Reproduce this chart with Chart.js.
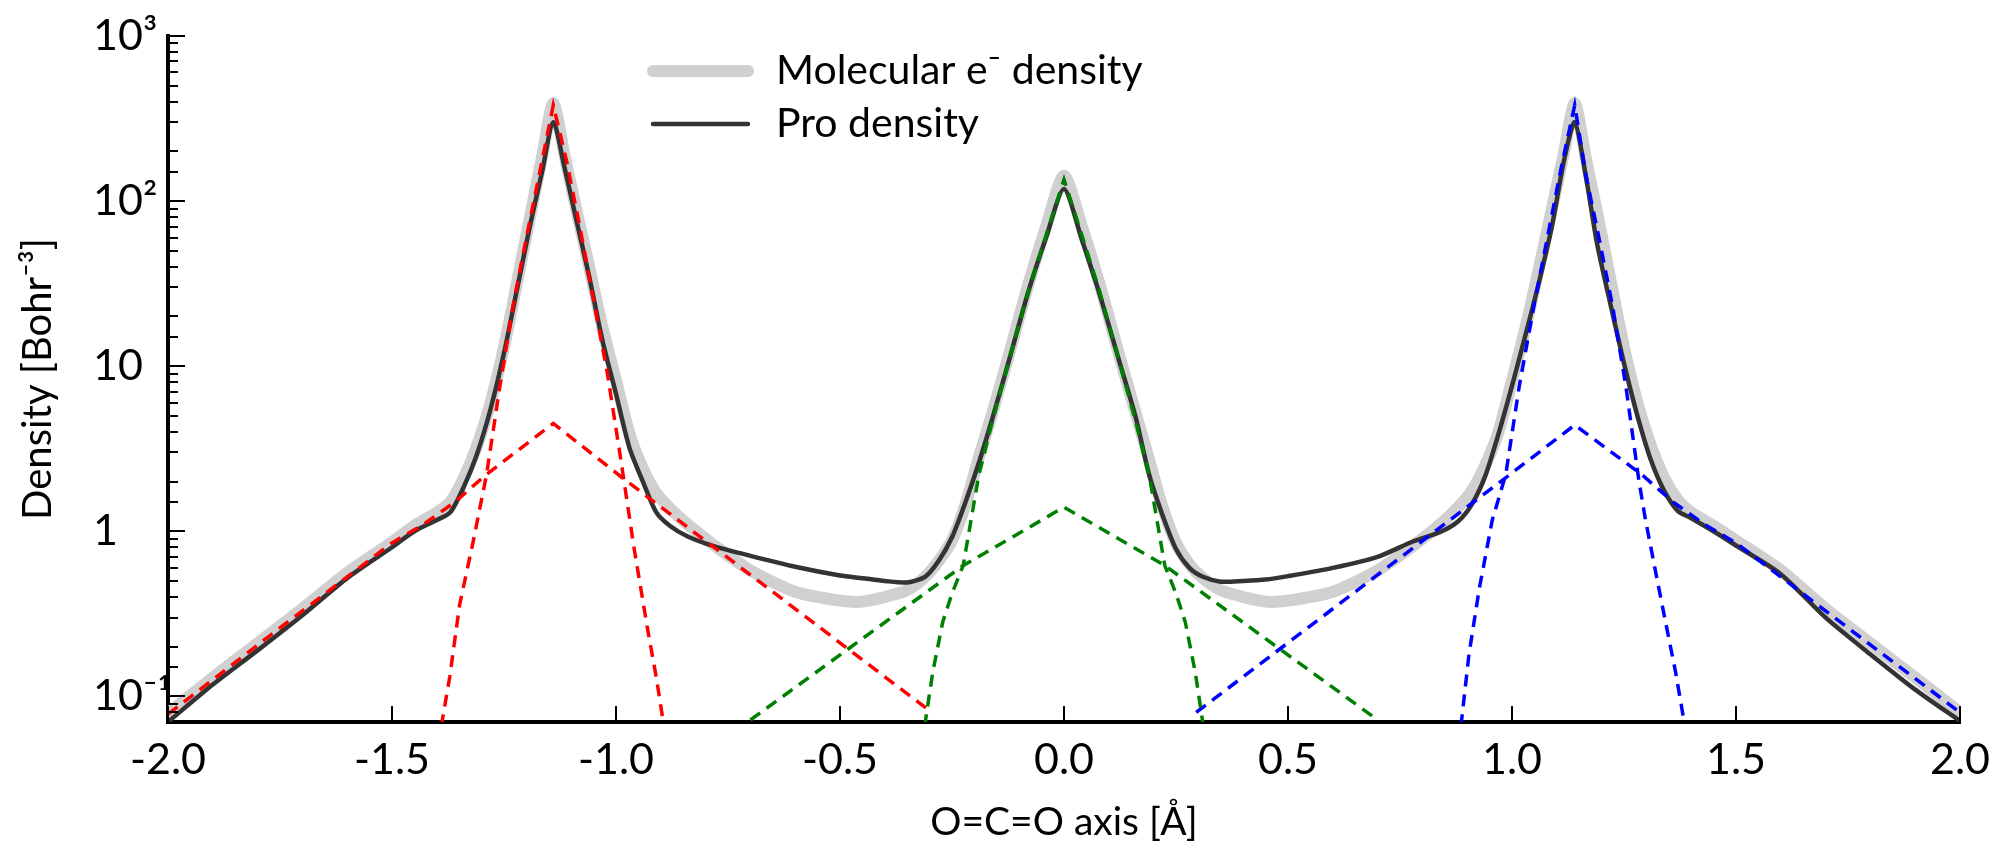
<!DOCTYPE html>
<html>
<head>
<meta charset="utf-8">
<script src="https://cdn.jsdelivr.net/npm/chart.js@4.4.1/dist/chart.umd.min.js"></script>
<style>
  body { margin: 0; background: #fff; }
  #wrap { width: 2009px; height: 848px; }
</style>
</head>
<body>
<div id="wrap"><canvas id="densityChart" width="2009" height="848"></canvas></div>
<script>
// positions along the O=C=O axis (Angstrom) for the two solid curves
const axisX = [-2.0, -1.9, -1.8, -1.7, -1.6, -1.5, -1.45, -1.4, -1.37, -1.34, -1.31, -1.28, -1.25, -1.22, -1.19, -1.165,
  -1.14, -1.115, -1.09, -1.06, -1.03, -1.0, -0.97, -0.94, -0.91, -0.88, -0.84, -0.78, -0.7, -0.6, -0.5, -0.45, -0.4,
  -0.35, -0.31, -0.28, -0.25, -0.22, -0.19, -0.16, -0.12, -0.08, -0.04, 0.0, 0.04, 0.08, 0.12, 0.16, 0.19, 0.22, 0.25,
  0.28, 0.31, 0.35, 0.4, 0.45, 0.5, 0.6, 0.7, 0.78, 0.84, 0.88, 0.91, 0.94, 0.97, 1.0, 1.03, 1.06, 1.09, 1.115, 1.14,
  1.165, 1.19, 1.22, 1.25, 1.28, 1.31, 1.34, 1.37, 1.4, 1.45, 1.5, 1.6, 1.7, 1.8, 1.9, 2.0];

const molecular = [0.079, 0.13, 0.21, 0.34, 0.56, 0.86, 1.08, 1.3, 1.5, 2.1, 3.3, 6.0, 13, 33, 85, 185,
  390, 190, 92, 40, 17, 8.2, 3.9, 2.4, 1.7, 1.38, 1.1, 0.82, 0.58, 0.43, 0.38, 0.375, 0.4,
  0.44, 0.53, 0.66, 0.88, 1.45, 2.8, 5.2, 12.5, 31, 70, 142, 70, 31, 12.5, 5.2, 2.7, 1.4, 0.85,
  0.63, 0.52, 0.44, 0.4, 0.375, 0.38, 0.43, 0.58, 0.82, 1.1, 1.4, 1.75, 2.5, 4.0, 8.2, 17, 39, 92, 190, 390,
  180, 85, 33, 13, 6.0, 3.3, 2.1, 1.55, 1.3, 1.08, 0.88, 0.58, 0.34, 0.21, 0.13, 0.08];

const proDensity = [0.070, 0.118, 0.19, 0.31, 0.52, 0.80, 1.0, 1.17, 1.3, 1.85, 2.95, 5.5, 12, 30, 75, 150,
  300, 160, 80, 35, 14.2, 6.8, 3.2, 2.0, 1.3, 1.08, 0.93, 0.81, 0.71, 0.61, 0.54, 0.52, 0.50,
  0.49, 0.53, 0.66, 0.92, 1.5, 2.6, 4.8, 11.5, 28, 60, 118, 58, 27, 11.5, 4.9, 2.2, 1.25, 0.78,
  0.6, 0.53, 0.495, 0.50, 0.51, 0.535, 0.60, 0.70, 0.87, 0.99, 1.15, 1.45, 2.15, 3.9, 7.6, 15.4, 32, 72, 170, 300,
  140, 55, 23.5, 10.4, 5.0, 2.7, 1.75, 1.33, 1.2, 1.0, 0.82, 0.55, 0.30, 0.18, 0.11, 0.071];

// atomic contributions (dashed)
const redCoreX = [-1.39, -1.371, -1.349, -1.319, -1.289, -1.259, -1.23, -1.2, -1.17, -1.14, -1.11, -1.08, -1.05, -1.02, -0.99, -0.96, -0.93, -0.91, -0.893];
const redCoreY = [0.066, 0.132, 0.36, 0.86, 2.2, 7.6, 23, 60, 150, 380, 173, 68, 25, 9.3, 2.8, 0.8, 0.26, 0.13, 0.066];
const redValX = [-2.0, -1.75, -1.5, -1.43, -1.36, -1.29, -1.14, -0.985, -0.295];
const redValY = [0.078, 0.26, 0.85, 1.1, 1.5, 2.2, 4.5, 2.1, 0.08];

const greenCoreX = [-0.311, -0.293, -0.271, -0.25, -0.225, -0.19, -0.16, -0.12, -0.08, -0.04, 0, 0.04, 0.08, 0.12, 0.16, 0.19, 0.225, 0.25, 0.271, 0.293, 0.311];
const greenCoreY = [0.066, 0.14, 0.28, 0.42, 0.62, 2.2, 4.6, 11.5, 28, 62, 135, 62, 28, 11.5, 4.6, 2.2, 0.62, 0.42, 0.28, 0.14, 0.066];
const greenValX = [-0.70, -0.225, 0, 0.225, 0.70];
const greenValY = [0.072, 0.62, 1.4, 0.62, 0.072];

const blueCoreX = [0.886, 0.904, 0.927, 0.956, 0.986, 1.016, 1.05, 1.08, 1.11, 1.14, 1.165, 1.194, 1.224, 1.254, 1.283, 1.298, 1.321, 1.343, 1.365, 1.386];
const blueCoreY = [0.066, 0.18, 0.45, 1.17, 2.2, 7.5, 24, 62, 160, 380, 143, 60, 23.5, 7.6, 2.05, 1.17, 0.56, 0.28, 0.141, 0.066];
const blueValX = [0.295, 0.985, 1.14, 1.29, 1.36, 1.43, 1.5, 1.75, 2.0];
const blueValY = [0.08, 2.1, 4.4, 2.2, 1.5, 1.1, 0.85, 0.26, 0.08];

const xTicks = [-2.0, -1.5, -1.0, -0.5, 0.0, 0.5, 1.0, 1.5, 2.0];
const yTickLabels = { '3': '10³', '2': '10²', '1': '10', '0': '1', '-1': '10⁻¹' };

const FONT = 'Lato';

function pts(xs, ys) {
    return xs.map((x, i) => ({ x: x, y: ys[i] }));
}

function dashed(xs, ys, color) {
    return {
        data: pts(xs, ys),
        borderColor: color,
        borderWidth: 3.5,
        borderDash: [12, 8],
        tension: 0,
        order: 0,
        legend: false
    };
}

// tick marks pointing into the plot, like the original
const innerTicks = {
    id: 'innerTicks',
    afterDraw(chart) {
        const { ctx, chartArea } = chart;
        const x = chart.scales.x, y = chart.scales.y;
        ctx.save();
        ctx.strokeStyle = '#000';
        ctx.lineWidth = 2;
        ctx.beginPath();
        y.ticks.forEach(t => {
            const p = Math.round(y.getPixelForValue(t.value));
            if (p > chartArea.bottom - 3) return;
            const lg = Math.log10(t.value);
            const len = Math.abs(lg - Math.round(lg)) < 1e-6 ? 17 : 10;
            ctx.moveTo(chartArea.left, p);
            ctx.lineTo(chartArea.left + len, p);
        });
        xTicks.forEach(v => {
            const p = Math.round(x.getPixelForValue(v));
            ctx.moveTo(p, chartArea.bottom);
            ctx.lineTo(p, chartArea.bottom - 16);
        });
        ctx.stroke();
        ctx.restore();
    }
};

// legend drawn inside the plot with line samples
const lineLegend = {
    id: 'lineLegend',
    afterDraw(chart) {
        const ctx = chart.ctx;
        const rows = chart.data.datasets.filter(d => d.legend);
        ctx.save();
        ctx.font = '41px ' + FONT;
        ctx.textBaseline = 'middle';
        ctx.fillStyle = '#000';
        rows.forEach((d, i) => {
            const yy = 71 + i * 53;
            ctx.strokeStyle = d.borderColor;
            ctx.lineWidth = d.borderWidth;
            ctx.lineCap = 'round';
            ctx.beginPath();
            ctx.moveTo(653, yy);
            ctx.lineTo(748, yy);
            ctx.stroke();
            ctx.fillText(d.label, 776, yy);
        });
        ctx.restore();
    }
};

const ctx = document.getElementById('densityChart').getContext('2d');
const myChart = new Chart(ctx, {
    type: 'line',
    data: {
        datasets: [
            dashed(redCoreX, redCoreY, '#ff0000'),
            dashed(redValX, redValY, '#ff0000'),
            dashed(greenCoreX, greenCoreY, '#008000'),
            dashed(greenValX, greenValY, '#008000'),
            dashed(blueCoreX, blueCoreY, '#0000ff'),
            dashed(blueValX, blueValY, '#0000ff'),
            {
                label: 'Molecular e⁻ density',
                data: pts(axisX, molecular),
                borderColor: '#d0d0d0',
                borderWidth: 12,
                borderCapStyle: 'round',
                borderJoinStyle: 'round',
                tension: 0.25,
                order: 2,
                legend: true
            },
            {
                label: 'Pro density',
                data: pts(axisX, proDensity),
                borderColor: '#333333',
                borderWidth: 4.5,
                borderJoinStyle: 'round',
                tension: 0.25,
                order: 1,
                legend: true
            }
        ]
    },
    options: {
        responsive: false,
        animation: false,
        devicePixelRatio: 1,
        layout: { padding: { top: 28, right: 49, left: 93, bottom: 0 } },
        elements: {
            point: { radius: 0 },
            line: { fill: false }
        },
        datasets: { line: { clip: 0 } },
        plugins: {
            legend: { display: false },
            tooltip: { enabled: false }
        },
        scales: {
            x: {
                type: 'linear',
                min: -2,
                max: 2,
                z: 1,
                afterFit: s => { s.height = 126; },
                afterBuildTicks: s => { s.ticks = xTicks.map(v => ({ value: v })); },
                grid: { display: false, drawTicks: false },
                border: { display: true, color: '#000', width: 4 },
                ticks: {
                    color: '#000',
                    font: { family: FONT, size: 43 },
                    padding: 12,
                    callback: v => v.toFixed(1)
                },
                title: {
                    display: true,
                    text: 'O=C=O axis [Å]',
                    color: '#000',
                    font: { family: FONT, size: 39 },
                    padding: { top: 0, bottom: 2 }
                }
            },
            y: {
                type: 'logarithmic',
                min: 0.07,
                max: 1000,
                z: 1,
                afterFit: s => { s.width = 75; },
                grid: { display: false, drawTicks: false },
                border: { display: true, color: '#000', width: 4 },
                ticks: {
                    autoSkip: false,
                    crossAlign: 'far',
                    color: '#000',
                    font: { family: FONT, size: 43 },
                    padding: 10,
                    callback: v => {
                        const lg = Math.log10(v);
                        if (Math.abs(lg - Math.round(lg)) > 1e-6) return '';
                        return yTickLabels[String(Math.round(lg))] || '';
                    }
                },
                title: {
                    display: true,
                    text: 'Density [Bohr⁻³]',
                    color: '#000',
                    font: { family: FONT, size: 40 },
                    padding: { top: -79, bottom: 0 }
                }
            }
        }
    },
    plugins: [innerTicks, lineLegend]
});
</script>
</body>
</html>
